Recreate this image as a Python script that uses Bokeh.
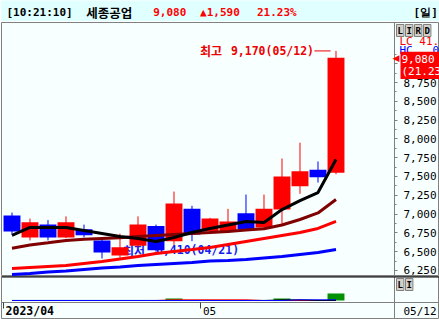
from bokeh.plotting import figure
from bokeh.models import (Range1d, ColumnDataSource, Label, FixedTicker, NumeralTickFormatter,
                          LinearAxis, Span)
from bokeh.layouts import column
from bokeh.embed import file_html
from bokeh.resources import INLINE
from bokeh.core.properties import value

# ---------------- data ----------------
clock = "10:21:10"
name = "세종공업"
price = 9080
change = 1590
pct = 21.23

dates = ["04/14", "04/17", "04/18", "04/19", "04/20", "04/21", "04/24", "04/25", "04/26", "04/27",
         "04/28", "05/02", "05/03", "05/04", "05/08", "05/09", "05/10", "05/11", "05/12"]
open_ = [6980, 6690, 6860, 6690, 6800, 6650, 6450, 6580, 6840, 6640,
         7070, 6770, 6770, 7010, 6820, 7060, 7370, 7590, 7550]
high = [7020, 6940, 6920, 6970, 6860, 6660, 6740, 6970, 6860, 7300,
        7110, 6950, 7070, 7260, 7260, 7740, 7950, 7700, 9170]
low = [6730, 6650, 6650, 6680, 6690, 6410, 6420, 6560, 6500, 6590,
       6640, 6750, 6760, 6780, 6800, 6860, 7270, 7420, 7530]
close = [6770, 6890, 6690, 6890, 6720, 6490, 6560, 6860, 6520, 7140,
         6730, 6940, 6900, 6800, 7070, 7500, 7570, 7490, 9080]

ma5 = [6716, 6822, 6822, 6822, 6782, 6742, 6702, 6676, 6636, 6689,
       6755, 6809, 6855, 6902, 6888, 7060, 7180, 7287, 7726]
ma20 = [6547, 6589, 6618, 6649, 6666, 6676, 6684, 6702, 6716, 6729,
        6742, 6755, 6769, 6787, 6806, 6855, 6928, 7015, 7194]
ma60 = [6277, 6290, 6303, 6316, 6343, 6370, 6403, 6436, 6476, 6503,
        6529, 6556, 6596, 6636, 6676, 6716, 6755, 6809, 6902]
ma120 = [6197, 6210, 6230, 6243, 6263, 6283, 6297, 6317, 6330, 6343,
         6356, 6376, 6383, 6396, 6416, 6436, 6463, 6489, 6529]

volume = [40, 30, 30, 30, 20, 60, 30, 40, 30, 2000,
          300, 200, 200, 300, 300, 2000, 400, 300, 7000]
vol_base = [100, 100, 100, 100, 100, 100, 100, 100, 100, 100,
            100, 100, 100, 100, 100, 100, 100, 100, 100]
vol_red = [None, None, None, None, None, None, None, None, None, 700,
           700, 700, 700, 700, None, None, None, None, None]
vol_black = [None, None, None, None, None, None, None, None, None, None,
             None, None, None, None, None, 600, 600, None, None]
vol_blue = [None, None, None, None, None, None, None, None, None, None,
            None, None, None, None, None, None, 700, 700, 700]

y_ticks = [6250, 6500, 6750, 7000, 7250, 7500, 7750, 8000, 8250, 8500, 8750, 9000]
month_ticks = [-0.47, 10.5]
month_labels = ["2023/04", "05"]

# ---------------- styles / geometry ----------------
BG = "#f7ffff"
HBG = "#e0ffff"
GRAY = "#808080"
RED = "#ff0000"
BLUE = "#0000ff"
MONO = "DejaVu Sans Mono"
KR = "Noto Sans CJK KR"
NB = "\u00a0"

X_START, X_END = -0.583, 23.75     # frame spans the whole width
AXIS_X = 21.25                     # where the price scale sits

idx = list(range(len(dates)))
src = ColumnDataSource(dict(
    x=idx, o=open_, h=high, l=low, c=close,
    top=[max(a, b) for a, b in zip(open_, close)],
    bot=[min(a, b) for a, b in zip(open_, close)],
    color=[RED if c >= o else BLUE for o, c in zip(open_, close)],
))

# ---------------- header ----------------
hdr = figure(width=439, height=21, x_range=Range1d(0, 439), y_range=Range1d(21, 0),
             output_backend="svg", toolbar_location=None, min_border=0,
             x_axis_location=None, y_axis_location=None,
             background_fill_color=HBG, border_fill_color=HBG, outline_line_color=None)
hdr.grid.visible = False
hdr_items = [
    (5, f"[{clock}]", "black", MONO, "11px"),
    (85, name, "black", KR, "12.5px"),
    (152, f"{price:,}", RED, MONO, "11px"),
    (199, f"▲{change:,}", RED, MONO, "11px"),
    (256, f"{pct:.2f}%", RED, MONO, "11px"),
    (413, "[일]", "black", MONO, "11px"),
]
for hx, ht, hc, hf, hs in hdr_items:
    hdr.text(x=[hx], y=[11.5], text=[ht], text_color=hc, text_font=value(hf),
             text_font_size=hs, text_font_style="bold", text_baseline="middle")

# ---------------- main price chart ----------------
p = figure(width=439, height=255, x_range=Range1d(X_START, X_END), y_range=Range1d(6170, 9548),
           output_backend="svg", toolbar_location=None,
           min_border_left=1, min_border_right=0, min_border_top=1, min_border_bottom=0,
           x_axis_location=None, y_axis_location=None,
           background_fill_color=BG, border_fill_color=BG, outline_line_color=GRAY)
p.grid.visible = False

ax = LinearAxis(fixed_location=AXIS_X)
ax.ticker = FixedTicker(ticks=y_ticks, minor_ticks=[t - 125 for t in y_ticks] + [y_ticks[-1] + 125])
ax.formatter = NumeralTickFormatter(format="0,0")
ax.axis_line_color = GRAY
ax.major_tick_line_color = GRAY
ax.minor_tick_line_color = GRAY
ax.major_tick_in = 0
ax.major_tick_out = 3
ax.minor_tick_in = 0
ax.minor_tick_out = 2
ax.major_label_standoff = 6
ax.major_label_text_font = MONO
ax.major_label_text_font_size = "11px"
ax.major_label_text_color = "black"
p.add_layout(ax, "right")

lo_i = low.index(min(low))
hi_i = high.index(max(high))
LO_C = "#1a1aee"
HI_C = "#ee0000"

# low label (drawn under the candles): Hangul part + numeric part
p.text(x=[lo_i], y=[low[lo_i]], text=["최저"], x_offset=21, y_offset=-8,
       text_color=LO_C, text_font=value(KR), text_font_size="12px", text_font_style="bold",
       text_baseline="middle", text_align="left")
p.text(x=[lo_i], y=[low[lo_i]], text=[f"{low[lo_i]:,}({dates[lo_i]})"], x_offset=54, y_offset=-8,
       text_color=LO_C, text_font=value(MONO), text_font_size="11.5px", text_font_style="bold",
       text_baseline="middle", text_align="left")

p.segment(x0="x", y0="h", x1="x", y1="l", source=src, line_color="color", line_width=1)
p.vbar(x="x", width=0.94, top="top", bottom="bot", source=src, fill_color="color", line_color=None)

p.line(idx, ma120, line_color=BLUE, line_width=3)
p.line(idx, ma60, line_color=RED, line_width=3)
p.line(idx, ma20, line_color="#800000", line_width=3)
p.line(idx, ma5, line_color="black", line_width=3)

# high label with leader line
p.text(x=[hi_i], y=[high[hi_i]], text=[f"{high[hi_i]:,}({dates[hi_i]})"], x_offset=-22,
       text_color=HI_C, text_font=value(MONO), text_font_size="11.5px", text_font_style="bold",
       text_baseline="middle", text_align="right")
p.text(x=[hi_i], y=[high[hi_i]], text=["최고"], x_offset=-114,
       text_color=HI_C, text_font=value(KR), text_font_size="12px", text_font_style="bold",
       text_baseline="middle", text_align="right")
p.segment(x0=[hi_i - 1.2], y0=[high[hi_i]], x1=[hi_i - 0.3], y1=[high[hi_i]], line_color=HI_C, line_width=1)

# right-side decorations (inside the frame, screen units from frame's bottom-left)
for k, ch in enumerate("LIRD"):
    p.add_layout(Label(x=395 + 9 * k, y=252, x_units="screen", y_units="screen", text=ch,
                       text_font=MONO, text_font_size="9px", text_font_style="bold",
                       text_color="black", text_baseline="top", text_align="left",
                       background_fill_color="#d4d0c8", border_line_color=GRAY, padding=1))
p.add_layout(Label(x=398, y=235, x_units="screen", y_units="screen", text="LC 41.",
                   text_font=MONO, text_font_size="11px", text_color=RED, text_baseline="middle"))
p.add_layout(Label(x=398, y=226, x_units="screen", y_units="screen", text=f"HC{NB}{NB}{NB}0",
                   text_font=MONO, text_font_size="11px", text_color=BLUE, text_baseline="middle"))
p.add_layout(Label(x=391, y=close[-1], x_units="screen", y_units="data", text="◀",
                   text_font="DejaVu Sans", text_font_size="9px", text_color=RED, text_baseline="middle"))
p.add_layout(Label(x=399, y=close[-1], x_units="screen", y_units="data",
                   text=f"{close[-1]:,}\n({pct:.2f}%)", y_offset=6, text_line_height=0.95,
                   text_font=MONO, text_font_size="11px", text_color="white", text_baseline="top",
                   background_fill_color=RED, padding=1))

# ---------------- volume panel + date axis ----------------
v = figure(width=439, height=43, x_range=p.x_range, y_range=Range1d(-19000, 24000),
           output_backend="svg", toolbar_location=None,
           min_border_left=1, min_border_right=0, min_border_top=0, min_border_bottom=0,
           x_axis_location=None, y_axis_location=None,
           background_fill_color=BG, border_fill_color=BG, outline_line_color=GRAY)
v.grid.visible = False
v.vbar(x=idx, top=volume, bottom=0, width=0.94, fill_color="#009000", line_color=None)
v.line(idx, vol_base, line_color="#2f8f7f", line_width=1)
v.line(idx, vol_red, line_color=RED, line_width=1)
v.line(idx, vol_black, line_color="black", line_width=1)
v.line(idx, vol_blue, line_color=BLUE, line_width=1)

xa = LinearAxis(fixed_location=-2000)
xa.ticker = FixedTicker(ticks=month_ticks, minor_ticks=[])
xa.major_label_overrides = {month_ticks[0]: "", month_ticks[1]: ""}
xa.axis_line_color = GRAY
xa.major_tick_line_color = "#404040"
xa.major_tick_in = 0
xa.major_tick_out = 6
xa.major_label_text_font_size = "1px"
v.add_layout(xa, "below")

ra = LinearAxis(fixed_location=AXIS_X, ticker=FixedTicker(ticks=[], minor_ticks=[]))
ra.axis_line_color = GRAY
ra.major_label_text_font_size = "0px"
v.add_layout(ra, "right")

v.add_layout(Span(location=24000, dimension="width", line_color="black", line_width=2))

v.add_layout(Label(x=month_ticks[0], y=9, x_units="data", y_units="screen", x_offset=2,
                   text=month_labels[0],
                   text_font=MONO, text_font_size="11.5px", text_font_style="bold",
                   text_color="black", text_baseline="middle"))
v.add_layout(Label(x=month_ticks[1], y=8.5, x_units="data", y_units="screen", x_offset=2,
                   text=month_labels[1],
                   text_font=MONO, text_font_size="11px", text_color="black", text_baseline="middle"))
v.add_layout(Label(x=402, y=8, x_units="screen", y_units="screen", text=dates[-1],
                   text_font=MONO, text_font_size="11px", text_color="black", text_baseline="middle"))
for k, ch in enumerate("LI"):
    v.add_layout(Label(x=395 + 9 * k, y=41, x_units="screen", y_units="screen", text=ch,
                       text_font=MONO, text_font_size="9px", text_font_style="bold",
                       text_color="black", text_baseline="top",
                       background_fill_color="#d4d0c8", border_line_color=GRAY, padding=1))

layout = column(hdr, p, v, spacing=0)
open("out.html", "w").write(file_html(layout, INLINE))
